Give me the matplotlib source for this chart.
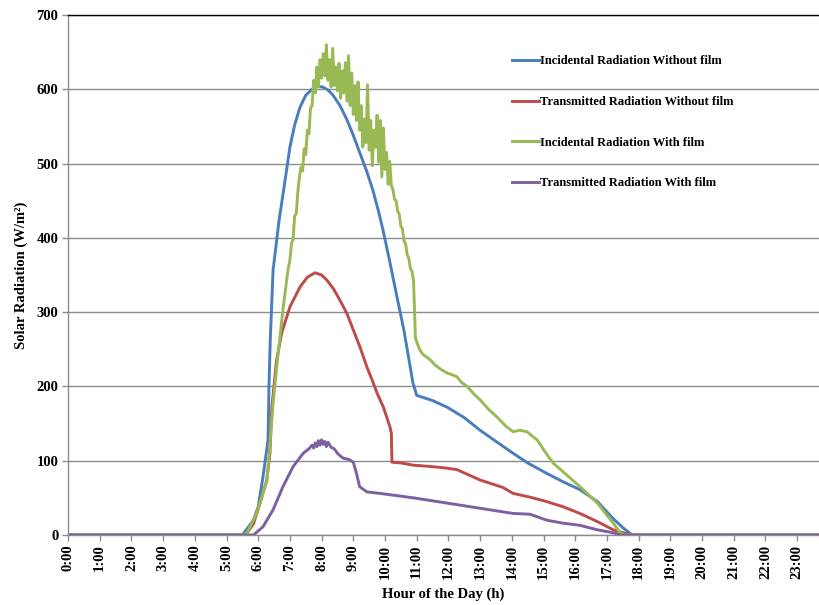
import matplotlib
matplotlib.use('Agg')
import matplotlib.pyplot as plt
import numpy as np

# horas do dia e radiação (W/m2)
hora_inc_sem = [0, 5.5, 5.85, 6.0, 6.15, 6.28, 6.31, 6.34, 6.38, 6.47, 6.66, 6.85, 7.0, 7.15,
                7.32, 7.5, 7.7, 7.87, 8.04, 8.2, 8.36, 8.58, 8.8, 9.0, 9.21, 9.42, 9.62, 9.8,
                9.94, 10.15, 10.38, 10.6, 10.88, 11.0, 11.5, 11.96, 12.5, 13.0, 13.5, 14.04,
                14.5, 15.1, 15.6, 16.15, 16.7, 17.2, 17.5, 17.8, 24]
rad_inc_sem = [0, 0, 20, 38, 78, 118, 128, 200, 262, 357, 424, 478, 522, 552,
               576, 592, 600, 604, 603, 599, 592, 578, 559, 538, 514, 490, 464, 435,
               410, 368, 320, 275, 205, 188, 181, 172, 158, 141, 126, 110,
               97, 83, 72, 61, 45, 22, 10, 0, 0]

hora_tra_sem = [0, 5.6, 5.85, 6.06, 6.27, 6.37, 6.43, 6.58, 6.74, 7.0, 7.32, 7.55, 7.79, 8.0,
                8.17, 8.38, 8.58, 8.8, 9.0, 9.22, 9.43, 9.6, 9.75, 9.95, 10.16, 10.2, 10.22,
                10.5, 10.9, 11.5, 11.95, 12.27, 13.0, 13.72, 14.04, 14.57, 15.1, 15.62,
                16.15, 16.7, 17.2, 17.6, 17.8, 24]
rad_tra_sem = [0, 0, 15, 43, 74, 110, 172, 235, 272, 307, 334, 347, 353, 350,
               343, 331, 316, 298, 276, 252, 226, 208, 191, 172, 145, 137, 98,
               97, 94, 92, 90, 88, 74, 64, 56, 51, 45, 38,
               29, 18, 7, 2, 0, 0]

# radiação incidente com filme: trecho sem ruído + trecho ruidoso (lido a cada 0,05 h)
hora_inc_com_ini = [0, 5.5, 5.65, 5.96, 6.28, 6.47, 6.63, 6.78, 6.94, 7.0, 7.05, 7.1, 7.15,
                    7.2, 7.25]
rad_inc_com_ini = [0, 0, 3, 30, 74, 177, 245, 303, 357, 370, 392, 398, 430,
                   432, 462]
rad_inc_com_ruido = [482, 495, 490, 520, 512, 545, 540, 575, 578, 612, 595, 630, 603, 640,
                     615, 648, 618, 660, 612, 640, 603, 655, 605, 630, 598, 635, 588, 625,
                     595, 636, 584, 645, 578, 622, 566, 605, 558, 610, 545, 578, 522, 560,
                     528, 606, 518, 558, 497, 545, 522, 565, 502, 558, 482, 548, 492, 515,
                     472, 503, 470, 465, 452, 450, 436, 432, 416, 412, 396, 392, 377, 373,
                     359, 355, 343]
hora_inc_com_ruido = np.round(7.30 + 0.05 * np.arange(len(rad_inc_com_ruido)), 2)
hora_inc_com_fim = [10.96, 11.0, 11.1, 11.2, 11.3, 11.42, 11.6, 11.8, 11.96, 12.1, 12.27,
                    12.4, 12.59, 12.8, 13.0, 13.25, 13.53, 13.8, 14.04, 14.25, 14.48, 14.65,
                    14.8, 15.05, 15.3, 15.7, 16.15, 16.7, 17.2, 17.4, 17.55, 24]
rad_inc_com_fim = [265, 260, 249, 243, 240, 236, 228, 222, 218, 216, 213,
                   206, 200, 190, 182, 170, 159, 147, 139, 141, 139, 133,
                   128, 112, 97, 82, 65, 43, 16, 4, 0, 0]

hora_tra_com = [0, 5.85, 6.15, 6.47, 6.78, 7.1, 7.42, 7.6, 7.7, 7.75, 7.8, 7.85, 7.9, 7.95,
                8.0, 8.05, 8.1, 8.15, 8.2, 8.3, 8.4, 8.5, 8.6, 8.7, 8.85, 9.0, 9.1, 9.2,
                9.43, 9.84, 10.9, 11.95, 13.0, 14.04, 14.57, 15.1, 15.6, 16.15, 16.7,
                17.2, 17.45, 24]
rad_tra_com = [0, 0, 11, 34, 65, 92, 110, 116, 121, 117, 124, 119, 127, 121,
               128, 122, 126, 119, 125, 118, 116, 110, 106, 103, 102, 98, 83, 65,
               58, 56, 50, 43, 36, 29, 28, 20, 16, 13, 7,
               3, 0, 0]

hora_inc_com = np.concatenate([hora_inc_com_ini, hora_inc_com_ruido, hora_inc_com_fim])
rad_inc_com = np.concatenate([rad_inc_com_ini, rad_inc_com_ruido, rad_inc_com_fim])

rotulos_x = ['%d:00' % h for h in range(24)]
series = [
    (hora_inc_sem, rad_inc_sem, 'Incidental Radiation Without film', '#4A7EBB'),
    (hora_tra_sem, rad_tra_sem, 'Transmitted Radiation Without film', '#BE4B48'),
    (hora_inc_com, rad_inc_com, 'Incidental Radiation With film', '#98B954'),
    (hora_tra_com, rad_tra_com, 'Transmitted Radiation With film', '#7D60A0'),
]

plt.rcParams['font.family'] = ['Liberation Serif', 'DejaVu Serif']
plt.rcParams['font.weight'] = 'bold'

fig = plt.figure(figsize=(8.19, 6.05), dpi=100)
ax = fig.add_axes([68/819, 70/605, 751/819, 520/605])

for h, r, nome, cor in series:
    ax.plot(h, r, color=cor, lw=2.1, label=nome)

ax.set_xlim(0, 751/31.7)
ax.set_ylim(0, 700)
ax.set_yticks(np.arange(0, 701, 100))
ax.set_xticks(range(24))
ax.set_xticklabels(rotulos_x, rotation=90, fontsize=10.5, fontweight='bold')
for t in ax.get_yticklabels():
    t.set_fontsize(10.5)
    t.set_fontweight('bold')
ax.grid(axis='y', color='#8C8C8C', lw=1.0)
ax.set_axisbelow(True)
ax.tick_params(axis='both', color='#8C8C8C', length=4, width=1.0, pad=3)
for lado in ['left', 'bottom']:
    ax.spines[lado].set_color('#8C8C8C')
    ax.spines[lado].set_linewidth(1.0)
ax.spines['right'].set_visible(False)
ax.spines['top'].set_color('black')
ax.spines['top'].set_linewidth(1.0)

ax.set_xlabel('Hour of the Day (h)', fontsize=10.5, fontweight='bold', labelpad=6)
ax.set_ylabel('Solar Radiation (W/m²)', fontsize=10.5, fontweight='bold', labelpad=6)

ax.legend(loc='upper left', bbox_to_anchor=(506/819, 1 - 49/605), bbox_transform=fig.transFigure,
          frameon=False, handlelength=2.1, handletextpad=0.15,
          labelspacing=2.3, borderpad=0, prop={'weight': 'bold', 'size': 9})

fig.savefig('out.png', dpi=100)
